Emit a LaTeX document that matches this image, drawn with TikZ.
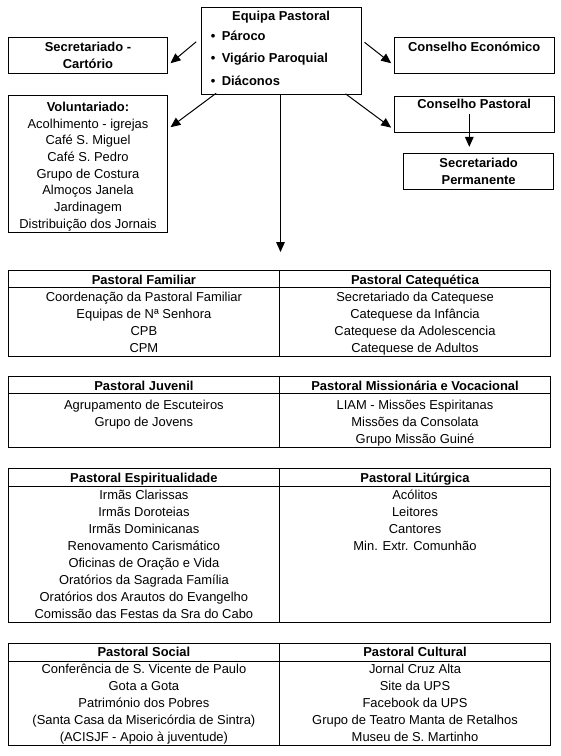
\documentclass[tikz,border=0pt]{standalone}
\usepackage{fontspec}
\setmainfont{Liberation Sans}
\usetikzlibrary{arrows.meta,calc}

\newcommand{\fonte}{\fontsize{9.7}{12.5}\selectfont}

\tikzset{
  caixa/.style={draw, line width=0.75pt, inner sep=0pt, align=center, font=\fonte\bfseries},
  seta/.style={line width=0.75pt, -{Triangle[length=7.5pt,width=6.5pt]}},
  grelha/.style={line width=0.75pt},
  titulo/.style={inner sep=0pt, text height=10pt, text depth=2.3pt, font=\fonte\bfseries},
  item/.style={inner sep=0pt, text height=10pt, text depth=2.3pt, font=\fonte},
}

\begin{document}
\begin{tikzpicture}[x=0.75pt,y=-0.75pt]
  \useasboundingbox (0,0) rectangle (560,756);

  % equipa pastoral
  \node[caixa, minimum width=119.5pt, minimum height=65.25pt] (equipa) at (281.35,50.8) {};
  \node[titulo] (equipatit) at (281,15.7) {Equipa Pastoral};
  \foreach \t [count=\i] in {Pároco,Vigário Paroquial,Diáconos}
    \node[titulo, anchor=west] (membro\i) at (210.5,12.5+22.5*\i) {\makebox[8.25pt][l]{\textbullet}\t};

  \node[caixa, minimum width=119.55pt, minimum height=27.5pt] (cartorio) at (88,55.65) {Secretariado -\\Cartório};
  \node[caixa, minimum width=119.55pt, minimum height=102.45pt] (voluntariado) at (88,164) {};
  \node[inner sep=0pt, align=center, font=\fonte] (voluntariadotxt) at (88,166.5)
    {\textbf{Voluntariado:}\\Acolhimento - igrejas\\Café S. Miguel\\Café S. Pedro\\Grupo de Costura\\Almoços Janela\\Jardinagem\\Distribuição dos Jornais};
  \node[caixa, minimum width=119.8pt, minimum height=27.5pt] (economico) at (474.15,55.65) {};
  \node[titulo] (economicotit) at ($(economico.north)+(0,9.4)$) {Conselho Económico};
  \node[caixa, minimum width=119.8pt, minimum height=27.2pt] (conselho) at (474.15,114.15) {};
  \node[titulo] (conselhotit) at ($(conselho.north)+(0,8.3)$) {Conselho Pastoral};
  \node[caixa, minimum width=112pt, minimum height=27.5pt] (permanente) at (478.65,171.65) {Secretariado\\Permanente};
  \coordinate (pastorais) at (280.5,252);

  \draw[seta] ($(equipa.west)+(-5,-9)$) -- ($(cartorio.east)+(2.3,7.6)$);
  \draw[seta] ($(equipa.south west)+(15,-1.6)$) -- ($(voluntariado.north east)+(2.3,32)$);
  \draw[seta] ($(equipa.east)+(3,-8.5)$) -- ($(economico.west)+(-2.6,7.6)$);
  \draw[seta] ($(equipa.south east)+(-16,-1)$) -- ($(conselho.west)+(-2.6,13.5)$);
  \draw[seta] ($(conselho.south)+(-4.85,-19)$) -- ($(permanente.north)+(-9.35,-6)$);
  \draw[seta] (equipa.south -| pastorais) -- (pastorais);

  % familiar / catequetica
  \draw[grelha] (8.3,270.7) rectangle (550.5,356);
  \draw[grelha] (8.3,287.5) -- (550.5,287.5) (279.5,270.7) -- (279.5,356);
  \node[titulo] (familiar) at (143.9,279) {Pastoral Familiar};
  \node[titulo] (catequetica) at (415,279) {Pastoral Catequética};
  \foreach \t [count=\i] in {Coordenação da Pastoral Familiar,Equipas de Nª Senhora,CPB,CPM}
    \node[item] (familiar\i) at (143.9,279+17*\i) {\t};
  \foreach \t [count=\i] in {Secretariado da Catequese,Catequese da Infância,Catequese da Adolescencia,Catequese de Adultos}
    \node[item] (catequetica\i) at (415,279+17*\i) {\t};

  % juvenil / missionaria
  \draw[grelha] (8.3,376.7) rectangle (550.5,447.3);
  \draw[grelha] (8.3,393.5) -- (550.5,393.5) (279.5,376.7) -- (279.5,447.3);
  \node[titulo] (juvenil) at (143.9,385.7) {Pastoral Juvenil};
  \node[titulo] (missionaria) at (415,385.7) {Pastoral Missionária e Vocacional};
  \foreach \t [count=\i] in {Agrupamento de Escuteiros,Grupo de Jovens}
    \node[item] (juvenil\i) at (143.9,387+17*\i) {\t};
  \foreach \t [count=\i] in {LIAM - Missões Espiritanas,Missões da Consolata,Grupo Missão Guiné}
    \node[item] (missionaria\i) at (415,387+17*\i) {\t};

  % espiritualidade / liturgica
  \draw[grelha] (8.3,468.3) rectangle (550.5,622.3);
  \draw[grelha] (8.3,486) -- (550.5,486) (279.5,468.3) -- (279.5,622.3);
  \node[titulo] (espiritualidade) at (143.9,477.3) {Pastoral Espiritualidade};
  \node[titulo] (liturgica) at (415,477.3) {Pastoral Litúrgica};
  \foreach \t [count=\i] in {Irmãs Clarissas,Irmãs Doroteias,Irmãs Dominicanas,Renovamento Carismático,Oficinas de Oração e Vida,Oratórios da Sagrada Família,Oratórios dos Arautos do Evangelho,Comissão das Festas da Sra do Cabo}
    \node[item] (espiritualidade\i) at (143.9,477.5+17*\i) {\t};
  \foreach \t [count=\i] in {Acólitos,Leitores,Cantores,Min. Extr. Comunhão}
    \node[item] (liturgica\i) at (415,477.5+17*\i) {\t};

  % social / cultural
  \draw[grelha] (8.3,643.3) rectangle (550.5,745.7);
  \draw[grelha] (8.3,661) -- (550.5,661) (279.5,643.3) -- (279.5,745.7);
  \node[titulo] (social) at (143.9,651.7) {Pastoral Social};
  \node[titulo] (cultural) at (415,651.7) {Pastoral Cultural};
  \foreach \t [count=\i] in {Conferência de S. Vicente de Paulo,Gota a Gota,Património dos Pobres,{(Santa Casa da Misericórdia de Sintra)},{(ACISJF - Apoio à juventude)}}
    \node[item] (social\i) at (143.9,651.5+17*\i) {\t};
  \foreach \t [count=\i] in {Jornal Cruz Alta,Site da UPS,Facebook da UPS,Grupo de Teatro Manta de Retalhos,Museu de S. Martinho}
    \node[item] (cultural\i) at (415,651.5+17*\i) {\t};
\end{tikzpicture}
\end{document}
